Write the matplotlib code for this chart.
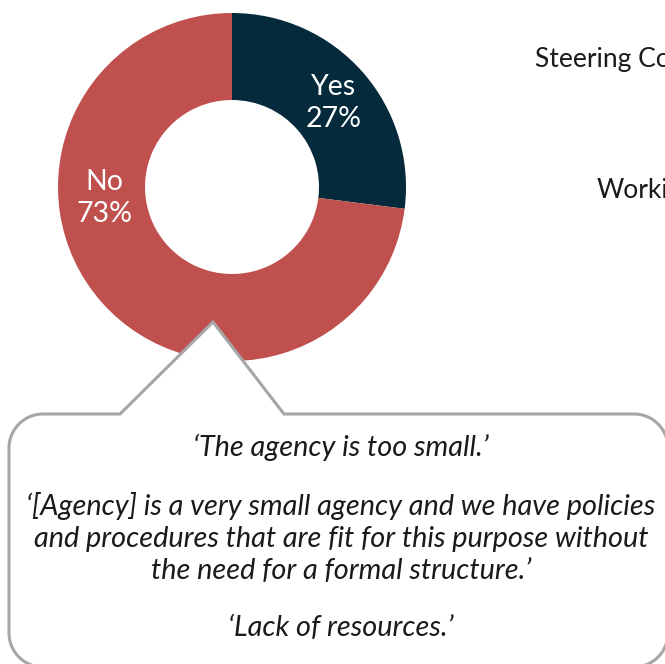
import numpy as np
import matplotlib
matplotlib.use("Agg")
import matplotlib.pyplot as plt
from matplotlib.patches import Polygon

# Survey answers
answers = ["Yes", "No"]
shares = [27, 73]
colors = ["#042a3b", "#c0504d"]

# Side labels (partly off the right edge)
side_labels = ["Steering Co", "Worki"]

# Quotes shown in the callout
quotes = [
    "\u2018The agency is too small.\u2019",
    "\u2018[Agency] is a very small agency and we have policies\n"
    "and procedures that are fit for this purpose without\n"
    "the need for a formal structure.\u2019",
    "\u2018Lack of resources.\u2019",
]

W, H = 665, 664
FONT = "Lato"
TXT = "#1a1a1a"

fig = plt.figure(figsize=(W / 100, H / 100), dpi=100)
ax = fig.add_axes([0, 0, 1, 1])


def Y(y):
    return H - y


cx, cy, R = 232, 187, 174
ax.pie(shares, colors=colors, startangle=90, counterclock=False,
       radius=R, center=(cx, Y(cy)),
       wedgeprops=dict(width=R / 2, edgecolor="none"))
ax.set_xlim(0, W)
ax.set_ylim(0, H)
ax.set_aspect("equal")
ax.axis("off")

# wedge labels
lab_fs = 20.5
ax.text(334, Y(103), f"{answers[0]}\n{shares[0]}%", ha="center", va="center",
        color="white", fontsize=lab_fs, family=FONT, linespacing=1.25)
ax.text(104, Y(198), f"{answers[1]}\n{shares[1]}%", ha="center", va="center",
        color="white", fontsize=lab_fs, family=FONT, linespacing=1.25)

# side labels
side_fs = 19
ax.text(535, Y(59), side_labels[0], ha="left", va="center", color=TXT,
        fontsize=side_fs, family=FONT, clip_on=False)
ax.text(597, Y(191), side_labels[1], ha="left", va="center", color=TXT,
        fontsize=side_fs, family=FONT, clip_on=False)

# callout bubble with pointer
r = 34
x0, x1, y0, y1 = 9, 668, 414, 667
pts = [(120, y0), (213, 322), (284, y0)]


def arc(ccx, ccy, a0, a1):
    t = np.radians(np.linspace(a0, a1, 30))
    return list(zip(ccx + r * np.cos(t), ccy + r * np.sin(t)))


pts += arc(x1 - r, y0 + r, -90, 0)
pts += arc(x1 - r, y1 - r, 0, 90)
pts += arc(x0 + r, y1 - r, 90, 180)
pts += arc(x0 + r, y0 + r, 180, 270)
pts = [(px, Y(py)) for px, py in pts]
ax.add_patch(Polygon(pts, closed=True, facecolor="white", edgecolor="#a6a6a6",
                     lw=2.2, joinstyle="miter", zorder=3, clip_on=False))

q_fs = 20.8
ax.text(341, Y(447), quotes[0], ha="center", va="center", style="italic",
        fontsize=q_fs, family=FONT, color=TXT, zorder=4)
ax.text(341, Y(538), quotes[1], ha="center", va="center", style="italic",
        fontsize=q_fs, family=FONT, color=TXT, zorder=4, linespacing=1.27)
ax.text(341, Y(628), quotes[2], ha="center", va="center", style="italic",
        fontsize=q_fs, family=FONT, color=TXT, zorder=4)

fig.savefig("out.png", dpi=100)
